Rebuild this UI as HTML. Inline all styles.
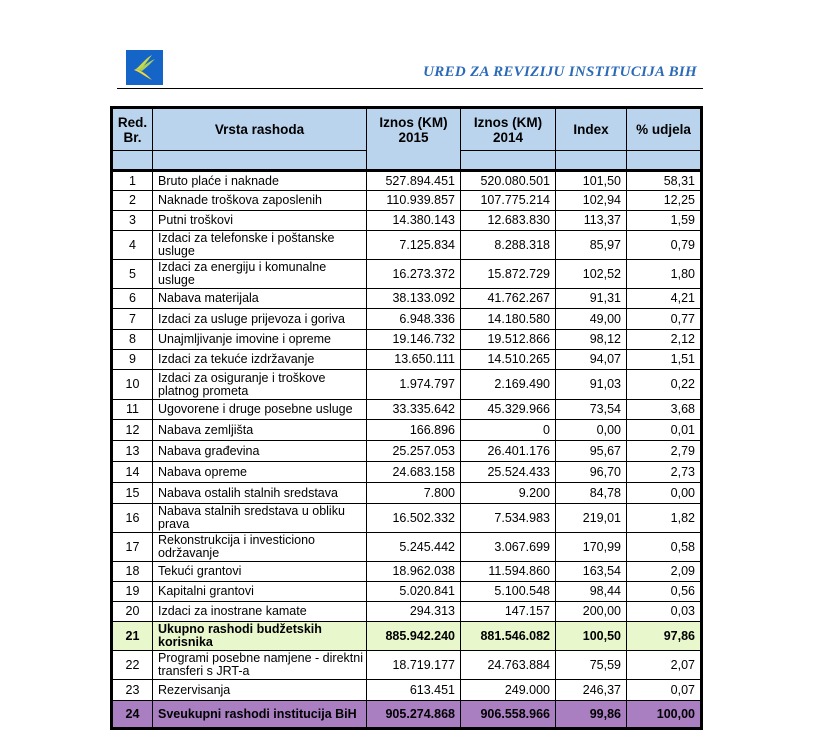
<!DOCTYPE html>
<html><head><meta charset="utf-8">
<style>
html,body{margin:0;padding:0;background:#fff;width:813px;height:730px;overflow:hidden;position:relative;font-family:"Liberation Sans",Arial,sans-serif;color:#000}
#logo{position:absolute;left:126px;top:50px;width:37px;height:35px;background:#1565c8}
#title{position:absolute;left:380px;top:64px;width:317px;text-align:right;font-family:"Liberation Serif",serif;font-style:italic;font-weight:bold;font-size:15px;color:#2b6ab8;letter-spacing:0.3px}
#rule{position:absolute;left:117px;top:88px;width:586px;height:1px;background:#000}
#tbl{position:absolute;left:110px;top:106px;width:587px;height:618px;border:3px solid #000}
.row{position:absolute;left:0;width:587px}
.c{position:absolute;top:0;box-sizing:border-box;border-right:1px solid #000;border-bottom:1px solid #000;font-size:12.5px;line-height:13px;display:flex;align-items:center;overflow:hidden;white-space:pre-line}
.c.last{border-right:none}
.ctr{justify-content:center;text-align:center}
.num{justify-content:flex-end;padding-right:5px}
.txt{padding-left:5px}
.hdr{font-weight:bold;font-size:13.5px;line-height:15px;background:#bad4ee}
.b{font-weight:bold}
</style></head><body>
<div id="logo"><svg width="37" height="35" viewBox="0 0 37 35"><path d="M8 20 C14 22 18 26 26 30 C20 24 16 21 10 19 Z" fill="#f5d63a"/><path d="M10 19 C16 14 20 8 26 5 C22 10 19 15 14 20 Z" fill="#c9d84a"/><path d="M12 20 C18 16 22 12 29 9 C24 14 21 17 16 21 Z" fill="#a7cf5a"/></svg></div>
<div id="title">URED ZA REVIZIJU INSTITUCIJA BIH</div>
<div id="rule"></div>
<div id="tbl"></div>
<script>
const colL=[0,40,254,348,443,514];
const colW=[40,214,94,95,71,73];
const ids=["1","2","3","4","5","6","7","8","9","10","11","12","13","14","15","16","17","18","19","20","21","22","23","24"];
const names=["Bruto plaće i naknade","Naknade troškova zaposlenih","Putni troškovi","Izdaci za telefonske i poštanske\nusluge","Izdaci za energiju i komunalne\nusluge","Nabava materijala","Izdaci za usluge prijevoza i goriva","Unajmljivanje imovine i opreme","Izdaci za tekuće izdržavanje","Izdaci za osiguranje i troškove\nplatnog prometa","Ugovorene i druge posebne usluge","Nabava zemljišta","Nabava građevina","Nabava opreme","Nabava ostalih stalnih sredstava","Nabava stalnih sredstava u obliku\nprava","Rekonstrukcija i investiciono\nodržavanje","Tekući grantovi","Kapitalni grantovi","Izdaci za inostrane kamate","Ukupno rashodi budžetskih\nkorisnika","Programi posebne namjene - direktni\ntransferi s JRT-a","Rezervisanja","Sveukupni rashodi institucija BiH"];
const v2015=["527.894.451","110.939.857","14.380.143","7.125.834","16.273.372","38.133.092","6.948.336","19.146.732","13.650.111","1.974.797","33.335.642","166.896","25.257.053","24.683.158","7.800","16.502.332","5.245.442","18.962.038","5.020.841","294.313","885.942.240","18.719.177","613.451","905.274.868"];
const v2014=["520.080.501","107.775.214","12.683.830","8.288.318","15.872.729","41.762.267","14.180.580","19.512.866","14.510.265","2.169.490","45.329.966","0","26.401.176","25.524.433","9.200","7.534.983","3.067.699","11.594.860","5.100.548","147.157","881.546.082","24.763.884","249.000","906.558.966"];
const idx=["101,50","102,94","113,37","85,97","102,52","91,31","49,00","98,12","94,07","91,03","73,54","0,00","95,67","96,70","84,78","219,01","170,99","163,54","98,44","200,00","100,50","75,59","246,37","99,86"];
const share=["58,31","12,25","1,59","0,79","1,80","4,21","0,77","2,12","1,51","0,22","3,68","0,01","2,79","2,73","0,00","1,82","0,58","2,09","0,56","0,03","97,86","2,07","0,07","100,00"];
const rowEnds=[191,211,231,260,289,309,330,350,370,400,420,441,462,483,504,533,562,582,602,622,651,680,701,727];
const T=document.getElementById('tbl');
function cell(row,i,cls,text,name){
  const d=document.createElement('div');
  d.className='c '+cls+(i===5?' last':'');
  d.style.left=colL[i]+'px';d.style.width=colW[i]+'px';d.style.height='100%';
  d.textContent=text;
  
  
  row.appendChild(d);return d;
}
const h1=document.createElement('div');h1.className='row';h1.style.top='0px';h1.style.height='42px';


T.appendChild(h1);
const ht=["Red.\nBr.","Vrsta rashoda","Iznos (KM)\n2015","Iznos (KM)\n2014","Index","% udjela"];
ht.forEach((t,i)=>{const c=cell(h1,i,'hdr ctr',t,'column-header');if(i===2){c.style.height='60px';c.style.borderBottom='none';c.style.paddingBottom='18px';}});
const h2=document.createElement('div');h2.className='row';h2.style.top='42px';h2.style.height='18px';


T.appendChild(h2);
[0,1,3,4,5].forEach(i=>{const c=cell(h2,i,'hdr',' ','header-spacer-cell');c.style.borderBottom='none';});
const thick=document.createElement('div');thick.style.cssText='position:absolute;left:0;top:60px;width:587px;height:3px;background:#000';


T.appendChild(thick);
let prev=172;
for(let r=0;r<ids.length;r++){
  const top=prev-109,h=rowEnds[r]-prev;prev=rowEnds[r];
  const row=document.createElement('div');row.className='row';row.style.top=top+'px';row.style.height=h+'px';
  
  
  if(r===20)row.style.background='#e8f7cc';
  if(r===23)row.style.background='#a97fc2';
  T.appendChild(row);
  const bold=(r===20||r===23)?' b':'';
  cell(row,0,'ctr'+bold,ids[r],'row-number');
  cell(row,1,'txt'+bold,names[r],'expense-type');
  cell(row,2,'num'+bold,v2015[r],'amount-2015');
  cell(row,3,'num'+bold,v2014[r],'amount-2014');
  cell(row,4,'num'+bold,idx[r],'index-value');
  cell(row,5,'num'+bold,share[r],'share-percent');
  if(r===23)row.querySelectorAll('.c').forEach(c=>c.style.borderBottom='none');
}
</script>
</body></html>
